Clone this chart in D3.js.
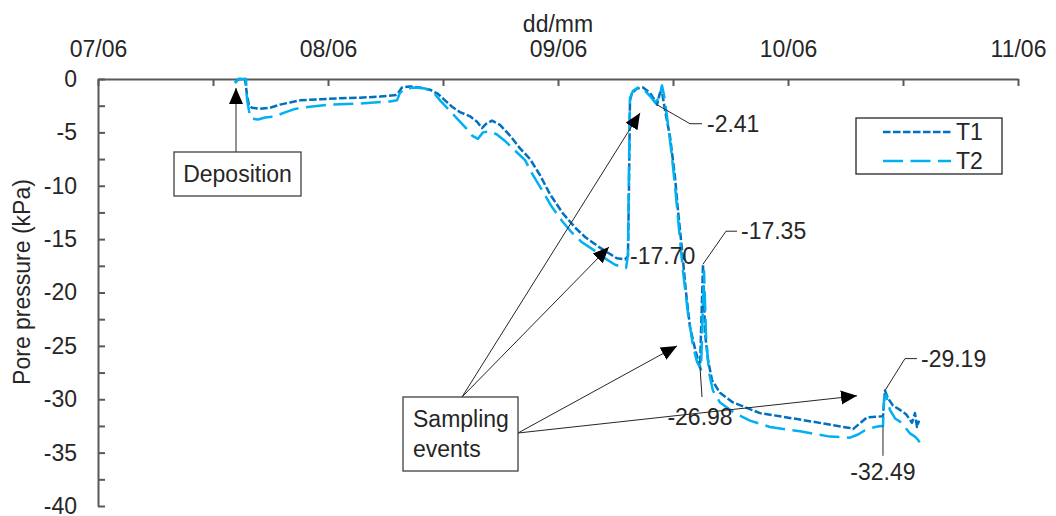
<!DOCTYPE html>
<html>
<head>
<meta charset="utf-8">
<script src="https://cdn.jsdelivr.net/npm/d3@7"></script>
<style>
  html, body { margin: 0; padding: 0; background: #fff; }
  svg { display: block; font-family: "Liberation Sans", Arial, sans-serif; }
</style>
</head>
<body>
<svg id="chart" width="1056" height="516"></svg>
<script>
// Pore pressure records of two tensiometers, hours elapsed since 07/06 00:00
const startDate = "07/06";
const endDate = "11/06";
const tickDays = ["07/06", "08/06", "09/06", "10/06", "11/06"];
const yTicks = [0, -5, -10, -15, -20, -25, -30, -35, -40];

const t1Hours = [14.30, 14.71, 15.34, 15.55, 15.76, 16.07, 16.90, 17.95, 18.99, 20.03, 21.08, 23.17, 25.25, 27.34, 29.43,
  31.10, 31.41, 31.72, 32.56, 33.60, 34.64, 35.48, 36.21, 36.94, 37.77, 38.82, 39.55, 40.07, 40.49, 41.11, 41.95,
  42.99, 44.04, 45.08, 46.12, 47.17, 48.52, 49.77, 50.82, 52.38, 53.43, 54.16, 54.99, 55.30, 55.41, 55.51, 55.72,
  56.24, 56.87, 57.60, 58.02, 58.33, 58.64, 58.85, 59.16, 59.69, 60.21, 60.52, 60.94, 61.36, 61.77, 62.30, 62.82,
  63.13, 63.34, 63.65, 64.07, 64.90, 66.26, 69.08, 71.17, 73.25, 75.86, 78.47, 78.78, 80.24, 81.91, 82.12, 82.43,
  82.96, 83.69, 84.32, 84.94, 85.25, 85.46, 85.67];
const t1Kpa = [-0.3, 0, 0, -1.5, -2.5, -2.7, -2.8, -2.7, -2.4, -2.2, -2.0, -1.9, -1.8, -1.75, -1.65,
  -1.5, -1.2, -0.8, -0.7, -0.8, -1.0, -1.4, -2.0, -2.6, -3.1, -3.5, -4.0, -4.6, -4.2, -3.9, -4.3,
  -5.3, -6.5, -7.5, -9.0, -10.8, -12.6, -13.9, -14.8, -15.8, -16.4, -16.8, -16.9, -16.6, -10, -2.0, -1.3,
  -0.9, -0.8, -1.3, -1.9, -2.41, -1.3, -1.2, -2.9, -5.4, -9.2, -12.3, -16, -20, -23.2, -25.3, -26.98,
  -17.35, -23.8, -26.3, -28.2, -29.4, -30.3, -31.3, -31.6, -31.9, -32.3, -32.7, -32.8, -31.7, -31.6, -29.19, -29.9,
  -30.6, -31.0, -31.4, -32.2, -31.3, -32.6, -32.0];

const t2Hours = [14.30, 14.61, 15.44, 15.55, 15.76, 15.97, 16.70, 17.43, 18.47, 19.30, 20.56, 22.12, 24.21, 27.34, 30.47,
  31.20, 31.51, 32.03, 33.08, 34.12, 34.96, 35.69, 36.52, 37.57, 38.40, 39.03, 39.65, 40.17, 40.90, 41.63, 42.47,
  43.51, 44.56, 45.39, 46.33, 47.37, 48.42, 49.46, 50.50, 51.86, 52.91, 53.95, 54.68, 55.10, 55.30, 55.41, 55.51,
  55.83, 56.35, 56.97, 57.60, 58.12, 58.54, 58.85, 59.06, 59.37, 59.79, 60.21, 60.62, 61.04, 61.57, 62.09, 62.51,
  62.92, 63.03, 63.24, 63.44, 63.76, 64.17, 64.90, 66.47, 68.03, 70.12, 73.25, 76.38, 78.47, 79.31, 80.03, 81.08,
  81.91, 82.02, 82.23, 82.64, 83.17, 83.69, 84.21, 84.73, 85.25, 85.57, 85.77];
const t2Kpa = [-0.4, 0, 0, -1.9, -3.0, -3.7, -3.8, -3.6, -3.5, -3.2, -2.8, -2.6, -2.4, -2.3, -2.1,
  -2.0, -1.3, -0.9, -0.8, -0.9, -1.2, -2.0, -2.8, -3.8, -4.6, -5.3, -5.6, -5.0, -4.9, -5.2, -5.8,
  -6.7, -7.6, -9.0, -10.4, -12.0, -13.3, -14.4, -15.3, -16.1, -16.8, -17.4, -17.6, -17.70, -16.5, -8, -1.8,
  -1.1, -0.8, -1.0, -1.6, -2.2, -1.8, -0.6, -1.5, -3.5, -6.5, -10, -14, -18, -22, -25, -26.5,
  -27.2, -24, -18, -24, -27.5, -29.2, -30.3, -31.3, -32.0, -32.6, -33.0, -33.5, -33.6, -33.3, -32.9, -32.6,
  -32.49, -30, -29.6, -31, -31.8, -32.1, -32.6, -33.2, -33.5, -33.8, -34.1];

const seriesNames = ["T1", "T2"];
const seriesColors = ["#0070C0", "#00B0F0"];

// Labelled readings: series, hour, value
const valueLabels = [
  { series: 0, hour: 58.33, value: -2.41 },
  { series: 1, hour: 55.10, value: -17.70 },
  { series: 0, hour: 63.13, value: -17.35 },
  { series: 0, hour: 62.82, value: -26.98 },
  { series: 0, hour: 82.12, value: -29.19 },
  { series: 1, hour: 81.91, value: -32.49 }
];

// Where the "Sampling events" arrows point (hour, kPa)
const samplingHours = [56.56, 53.32, 60.42, 79.20];
const samplingKpa = [-3.18, -15.73, -25.0, -29.68];
const depositionHour = 14.40;
const depositionKpa = -0.84;

const parseDay = d3.timeParse("%d/%m");
const t0 = parseDay(startDate);
const toDate = h => new Date(t0.getTime() + h * 3600e3);

const svg = d3.select("#chart");
const margin = { left: 98, right: 38, top: 79, bottom: 10 };
const W = 1056, H = 516;

const x = d3.scaleTime()
  .domain([t0, parseDay(endDate)])
  .range([margin.left, W - margin.right]);
const y = d3.scaleLinear()
  .domain([0, -40])
  .range([margin.top, H - margin.bottom]);

const axisColor = "#595959";
const textColor = "#262626";
const fontSize = 23;

// Top time axis: ticks every 12 h, labels at midnight
const xTickVals = d3.timeHour.every(12).range(t0, d3.timeHour.offset(parseDay(endDate), 1));
const fmtDay = d3.timeFormat("%d/%m");
const xAxis = d3.axisTop(x)
  .tickValues(xTickVals)
  .tickSizeInner(-7)
  .tickSizeOuter(0)
  .tickPadding(22)
  .tickFormat(d => (d.getHours() === 0 && tickDays.includes(fmtDay(d))) ? fmtDay(d) : "");
const gx = svg.append("g").attr("transform", `translate(0,${margin.top})`).call(xAxis);

// Left pressure axis: minor ticks every 2.5 kPa
const yTickVals = d3.range(0, -40.01, -2.5);
const yAxis = d3.axisLeft(y)
  .tickValues(yTickVals)
  .tickSizeInner(-7)
  .tickSizeOuter(0)
  .tickPadding(21)
  .tickFormat(d => yTicks.includes(d) ? d3.format("d")(d).replace("−", "-") : "");
const gy = svg.append("g").attr("transform", `translate(${margin.left},0)`).call(yAxis);

[gx, gy].forEach(g => {
  g.select(".domain").attr("stroke", axisColor).attr("stroke-width", 2);
  g.selectAll(".tick line").attr("stroke", axisColor).attr("stroke-width", 2);
  g.selectAll(".tick text")
    .attr("fill", textColor)
    .style("font-size", fontSize + "px")
    .style("font-family", "'Liberation Sans', Arial, sans-serif");
});

// Axis titles
svg.append("text")
  .attr("x", (x.range()[0] + x.range()[1]) / 2 + 0)
  .attr("y", 32)
  .attr("text-anchor", "middle")
  .attr("fill", textColor)
  .style("font-size", fontSize + "px")
  .text("dd/mm");

svg.append("text")
  .attr("transform", `translate(30,${282}) rotate(-90)`)
  .attr("text-anchor", "middle")
  .attr("fill", textColor)
  .style("font-size", fontSize + "px")
  .text("Pore pressure (kPa)");

// Series lines
const series = [
  t1Hours.map((h, i) => ({ t: toDate(h), v: t1Kpa[i] })),
  t2Hours.map((h, i) => ({ t: toDate(h), v: t2Kpa[i] }))
];
const dashes = ["7.5,2.5", "20,7.5"];
const line = d3.line().x(d => x(d.t)).y(d => y(d.v));

series.forEach((s, i) => {
  svg.append("path")
    .datum(s)
    .attr("fill", "none")
    .attr("stroke", seriesColors[i])
    .attr("stroke-width", 2.5)
    .attr("stroke-dasharray", dashes[i])
    .attr("stroke-linejoin", "round")
    .attr("d", line);
});

// Arrowhead marker
const defs = svg.append("defs");
defs.append("marker")
  .attr("id", "arrowHead")
  .attr("markerUnits", "userSpaceOnUse")
  .attr("viewBox", "0 -8 16 16")
  .attr("refX", 16).attr("refY", 0)
  .attr("markerWidth", 16).attr("markerHeight", 16)
  .attr("orient", "auto")
  .append("path")
  .attr("d", "M0,-7L16,0L0,7Z")
  .attr("fill", "#000");

const annot = svg.append("g");

// Value labels with leader lines
const leaderShapes = {
  "-2.41": { pts: [[33, 19], [45, 19]], tx: 50, ty: 19, anchor: "start" },
  "-17.70": { pts: [], tx: 4, ty: -12, anchor: "start" },
  "-17.35": { pts: [[23, -33], [34, -33]], tx: 38, ty: -33, anchor: "start" },
  "-26.98": { pts: [[2, 30]], tx: 0, ty: 50, anchor: "middle" },
  "-29.19": { pts: [[20, -32], [32, -32]], tx: 36, ty: -32, anchor: "start" },
  "-32.49": { pts: [[0, 30]], tx: 0, ty: 46, anchor: "middle" }
};

valueLabels.forEach(lab => {
  const key = lab.value.toFixed(2);
  const shape = leaderShapes[key];
  const px = x(toDate(lab.hour)), py = y(lab.value);
  if (shape.pts.length) {
    annot.append("polyline")
      .attr("points", [[px, py]].concat(shape.pts.map(p => [px + p[0], py + p[1]])).map(p => p.join(",")).join(" "))
      .attr("fill", "none")
      .attr("stroke", "#262626")
      .attr("stroke-width", 1);
  }
  annot.append("text")
    .attr("x", px + shape.tx)
    .attr("y", py + shape.ty)
    .attr("dy", "0.35em")
    .attr("text-anchor", shape.anchor)
    .attr("fill", textColor)
    .style("font-size", fontSize + "px")
    .text(key);
});

// Deposition callout
const depX = x(toDate(depositionHour));
const depBox = { x: 174, y: 152, w: 127, h: 44 };
annot.append("line")
  .attr("x1", depX).attr("y1", depBox.y)
  .attr("x2", depX).attr("y2", y(depositionKpa))
  .attr("stroke", "#262626").attr("stroke-width", 1)
  .attr("marker-end", "url(#arrowHead)");
annot.append("rect")
  .attr("x", depBox.x).attr("y", depBox.y)
  .attr("width", depBox.w).attr("height", depBox.h)
  .attr("fill", "#fff").attr("stroke", "#404040").attr("stroke-width", 1.3);
annot.append("text")
  .attr("x", depBox.x + depBox.w / 2).attr("y", depBox.y + depBox.h / 2)
  .attr("dy", "0.35em")
  .attr("text-anchor", "middle")
  .attr("fill", textColor)
  .style("font-size", fontSize + "px")
  .text("Deposition");

// Sampling events callout
const sampBox = { x: 403, y: 397, w: 115, h: 74 };
const sampStarts = [[462, sampBox.y], [462, sampBox.y], [sampBox.x + sampBox.w, 433], [sampBox.x + sampBox.w, 433]];
samplingHours.forEach((h, i) => {
  annot.append("line")
    .attr("x1", sampStarts[i][0]).attr("y1", sampStarts[i][1])
    .attr("x2", x(toDate(h))).attr("y2", y(samplingKpa[i]))
    .attr("stroke", "#262626").attr("stroke-width", 1)
    .attr("marker-end", "url(#arrowHead)");
});
annot.append("rect")
  .attr("x", sampBox.x).attr("y", sampBox.y)
  .attr("width", sampBox.w).attr("height", sampBox.h)
  .attr("fill", "#fff").attr("stroke", "#404040").attr("stroke-width", 1.3);
const sampText = annot.append("text")
  .attr("fill", textColor)
  .style("font-size", fontSize + "px");
sampText.append("tspan").attr("x", sampBox.x + 10).attr("y", sampBox.y + 30).text("Sampling");
sampText.append("tspan").attr("x", sampBox.x + 10).attr("y", sampBox.y + 60).text("events");

// Legend
const leg = svg.append("g");
const legBox = { x: 856, y: 118, w: 146, h: 56 };
leg.append("rect")
  .attr("x", legBox.x).attr("y", legBox.y)
  .attr("width", legBox.w).attr("height", legBox.h)
  .attr("fill", "#fff").attr("stroke", "#262626").attr("stroke-width", 1.3);
seriesNames.forEach((name, i) => {
  const ly = legBox.y + 14 + i * 29;
  leg.append("line")
    .attr("x1", legBox.x + 27).attr("x2", legBox.x + 95)
    .attr("y1", ly).attr("y2", ly)
    .attr("stroke", seriesColors[i])
    .attr("stroke-width", 2.5)
    .attr("stroke-dasharray", dashes[i]);
  leg.append("text")
    .attr("x", legBox.x + 100).attr("y", ly)
    .attr("dy", "0.35em")
    .attr("fill", textColor)
    .style("font-size", fontSize + "px")
    .text(name);
});
</script>
</body>
</html>
